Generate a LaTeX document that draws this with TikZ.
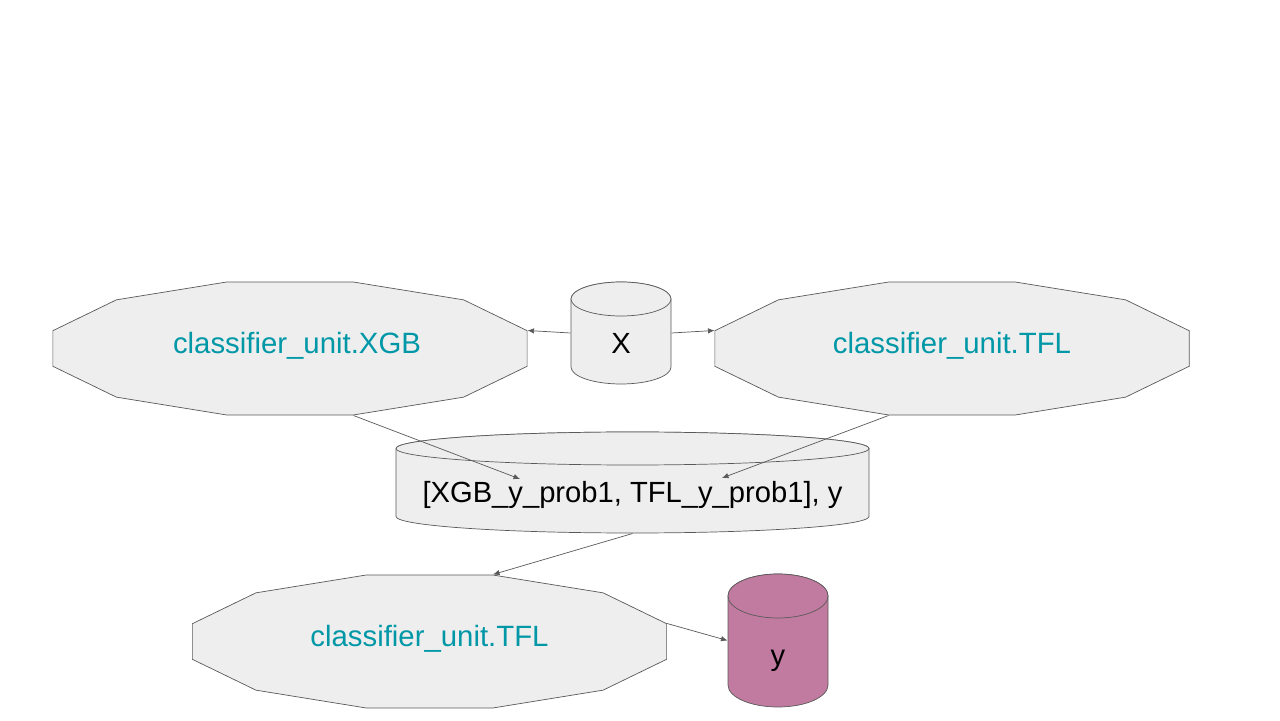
\documentclass[tikz,border=0pt]{standalone}
\usepackage{fontspec}
\setmainfont{Liberation Sans}
\usetikzlibrary{arrows.meta}
\definecolor{unitfill}{HTML}{EEEEEE}
\definecolor{unitline}{HTML}{595959}
\definecolor{unittext}{HTML}{0097A7}
\definecolor{yfill}{HTML}{C27BA0}
\pgfdeclarelayer{background}
\pgfsetlayers{background,main}

\begin{document}
\begin{tikzpicture}[
    >={Latex[length=1.3mm, width=1.1mm]},
    line width=0.6pt,
    unit/.style={minimum width=9.48cm, minimum height=2.66cm, inner sep=0pt, text=unittext,
      font=\fontsize{16.7pt}{20pt}\selectfont, text height=0.4cm, text depth=0.21cm},
    drum/.style={inner sep=0pt, font=\fontsize{16.6pt}{20pt}\selectfont, text height=0.81cm, text depth=0pt},
    outline/.style={draw=unitline, fill=unitfill},
    link/.style={->, draw=unitline}
  ]
    \useasboundingbox (0,0) rectangle (25.6,14.4);

    % Inputs
    \node[drum, minimum width=2cm, minimum height=2.04cm] (xin) at (12.42, 7.74) {X};

    % Classifier units
    \node[unit] (xgb) at (5.8, 7.43) {\hspace{0.28cm}classifier\_unit.XGB};
    \node[unit] (tfl) at (19.04, 7.43) {classifier\_unit.TFL};

    % Stacked probabilities
    \node[drum, minimum width=9.46cm, minimum height=2.02cm] (mid) at (12.65, 4.75) {[XGB\_y\_prob1, TFL\_y\_prob1], y};

    % Meta classifier and output
    \node[unit] (tflb) at (8.59, 1.57) {classifier\_unit.TFL};
    \node[drum, minimum width=2cm, minimum height=2.66cm, text height=1.0cm] (yout) at (15.56, 1.59) {y};

    % Shapes behind the nodes
    \begin{pgfonlayer}{background}
      \foreach \n in {xgb, tfl, tflb}
        \filldraw[outline, shift={(\n.center)}, xscale=4.91, yscale=1.376]
          (15:1) \foreach \a in {45,75,...,345} {-- (\a:1)} -- cycle;
      \foreach \n/\rx/\ry/\hh/\c in {xin/1/0.34/1.02/unitfill, mid/4.73/0.33/1.01/unitfill, yout/1/0.44/1.33/yfill} {
        \filldraw[outline, fill=\c, shift={(\n.center)}]
          ({-\rx},{\hh-\ry}) -- ({-\rx},{\ry-\hh})
          arc[start angle=180, end angle=360, x radius=\rx, y radius=\ry]
          -- ({\rx},{\hh-\ry})
          arc[start angle=0, end angle=180, x radius=\rx, y radius=\ry] -- cycle;
        \filldraw[outline, fill=\c, shift={(\n.center)}]
          (0,{\hh-\ry}) ellipse[x radius=\rx, y radius=\ry];
      }
    \end{pgfonlayer}

    % Connections
    \draw[link] (xin.west) -- ([yshift=0.36cm]xgb.east);
    \draw[link] (xin.east) -- ([yshift=0.36cm]tfl.west);
    \draw[link] ([xshift=1.27cm]xgb.south) -- ([xshift=-2.25cm, yshift=0.07cm]mid.center);
    \draw[link] ([xshift=-1.27cm]tfl.south) -- ([xshift=1.79cm, yshift=0.09cm]mid.center);
    \draw[link] (mid.south) -- ([xshift=1.27cm]tflb.north);
    \draw[link] ([yshift=0.36cm]tflb.east) -- (yout.west);
  \end{tikzpicture}
\end{document}
